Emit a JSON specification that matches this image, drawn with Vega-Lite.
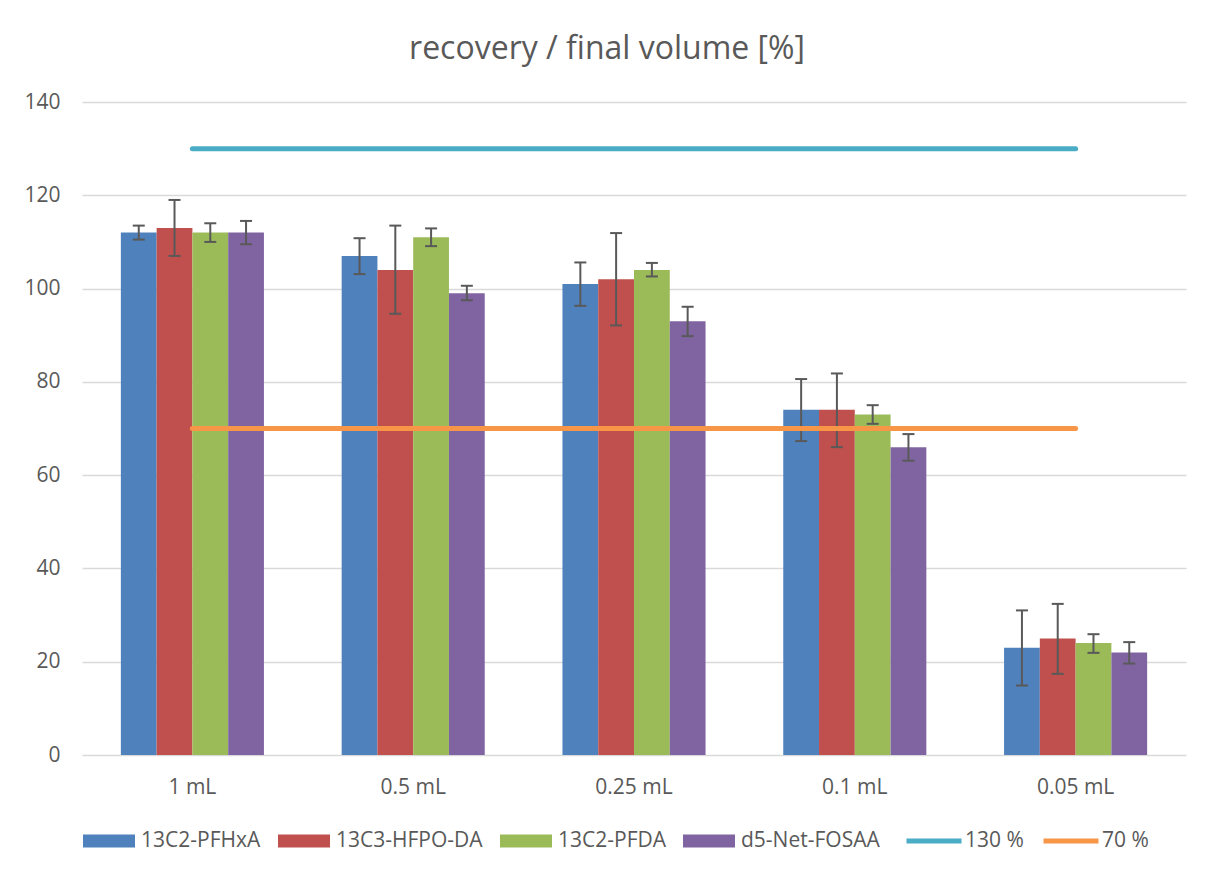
{
  "$schema": "https://vega.github.io/schema/vega-lite/v6.json",
  "autosize": "none",
  "width": 1104,
  "height": 653,
  "padding": {"left": 82, "top": 102, "right": 26, "bottom": 120},
  "background": "white",
  "config": {
    "font": "Open Sans",
    "view": {"stroke": null},
    "axis": {"labelFont": "Open Sans", "labelColor": "#595959", "labelFontSize": 21},
    "legend": {"labelFont": "Open Sans", "labelColor": "#595959", "labelFontSize": 21}
  },
  "title": {
    "text": "recovery / final volume [%]",
    "font": "Open Sans",
    "fontSize": 32,
    "fontWeight": "normal",
    "color": "#595959",
    "anchor": "middle",
    "dx": -27,
    "offset": 25
  },
  "datasets": {
    "bars": [
      {"volume": "1 mL", "series": "13C2-PFHxA", "value": 112, "lo": 110.5, "hi": 113.5},
      {"volume": "1 mL", "series": "13C3-HFPO-DA", "value": 113, "lo": 107, "hi": 119},
      {"volume": "1 mL", "series": "13C2-PFDA", "value": 112, "lo": 110, "hi": 114},
      {"volume": "1 mL", "series": "d5-Net-FOSAA", "value": 112, "lo": 109.5, "hi": 114.5},
      {"volume": "0.5 mL", "series": "13C2-PFHxA", "value": 107, "lo": 103.1, "hi": 110.8},
      {"volume": "0.5 mL", "series": "13C3-HFPO-DA", "value": 104, "lo": 94.6, "hi": 113.5},
      {"volume": "0.5 mL", "series": "13C2-PFDA", "value": 111, "lo": 109.1, "hi": 112.9},
      {"volume": "0.5 mL", "series": "d5-Net-FOSAA", "value": 99, "lo": 97.5, "hi": 100.6},
      {"volume": "0.25 mL", "series": "13C2-PFHxA", "value": 101, "lo": 96.3, "hi": 105.6},
      {"volume": "0.25 mL", "series": "13C3-HFPO-DA", "value": 102, "lo": 92.1, "hi": 111.9},
      {"volume": "0.25 mL", "series": "13C2-PFDA", "value": 104, "lo": 102.6, "hi": 105.5},
      {"volume": "0.25 mL", "series": "d5-Net-FOSAA", "value": 93, "lo": 89.8, "hi": 96.1},
      {"volume": "0.1 mL", "series": "13C2-PFHxA", "value": 74, "lo": 67.3, "hi": 80.6},
      {"volume": "0.1 mL", "series": "13C3-HFPO-DA", "value": 74, "lo": 66, "hi": 81.8},
      {"volume": "0.1 mL", "series": "13C2-PFDA", "value": 73, "lo": 71, "hi": 75},
      {"volume": "0.1 mL", "series": "d5-Net-FOSAA", "value": 66, "lo": 63.1, "hi": 68.8},
      {"volume": "0.05 mL", "series": "13C2-PFHxA", "value": 23, "lo": 14.9, "hi": 31.0},
      {"volume": "0.05 mL", "series": "13C3-HFPO-DA", "value": 25, "lo": 17.4, "hi": 32.4},
      {"volume": "0.05 mL", "series": "13C2-PFDA", "value": 24, "lo": 21.9, "hi": 25.9},
      {"volume": "0.05 mL", "series": "d5-Net-FOSAA", "value": 22, "lo": 19.6, "hi": 24.2}
    ],
    "limits": [
      {"volume": "1 mL", "line": "130 %", "level": 130},
      {"volume": "0.5 mL", "line": "130 %", "level": 130},
      {"volume": "0.25 mL", "line": "130 %", "level": 130},
      {"volume": "0.1 mL", "line": "130 %", "level": 130},
      {"volume": "0.05 mL", "line": "130 %", "level": 130},
      {"volume": "1 mL", "line": "70 %", "level": 70},
      {"volume": "0.5 mL", "line": "70 %", "level": 70},
      {"volume": "0.25 mL", "line": "70 %", "level": 70},
      {"volume": "0.1 mL", "line": "70 %", "level": 70},
      {"volume": "0.05 mL", "line": "70 %", "level": 70}
    ]
  },
  "layer": [
    {
      "data": {"name": "bars"},
      "mark": {"type": "bar"},
      "encoding": {
        "x": {
          "field": "volume", "type": "nominal",
          "sort": ["1 mL", "0.5 mL", "0.25 mL", "0.1 mL", "0.05 mL"],
          "scale": {"paddingInner": 0.352, "paddingOuter": 0.176},
          "axis": {"title": null, "labelAngle": 0, "ticks": false, "domain": false, "labelPadding": 21, "grid": false}
        },
        "xOffset": {
          "field": "series", "type": "nominal",
          "sort": ["13C2-PFHxA", "13C3-HFPO-DA", "13C2-PFDA", "d5-Net-FOSAA"],
          "scale": {"paddingInner": 0, "paddingOuter": 0}
        },
        "y": {
          "field": "value", "type": "quantitative",
          "scale": {"domain": [0, 140], "nice": false},
          "axis": {
            "title": null, "values": [0, 20, 40, 60, 80, 100, 120, 140],
            "ticks": false, "domain": false, "labelPadding": 22,
            "gridColor": "#d9d9d9", "gridWidth": 1.5
          }
        },
        "color": {
          "field": "series", "type": "nominal",
          "sort": ["13C2-PFHxA", "13C3-HFPO-DA", "13C2-PFDA", "d5-Net-FOSAA"],
          "scale": {
            "domain": ["13C2-PFHxA", "13C3-HFPO-DA", "13C2-PFDA", "d5-Net-FOSAA"],
            "range": ["#4F81BD", "#C0504D", "#9BBB59", "#8064A2"]
          },
          "legend": {
            "title": null, "orient": "none", "direction": "horizontal",
            "legendX": 1, "legendY": 713,
            "symbolType": "M-1,-0.25H1V0.25H-1Z", "symbolSize": 2704,
            "symbolStrokeWidth": 0, "symbolOpacity": 1,
            "labelOffset": 6, "columnPadding": 17
          }
        }
      }
    },
    {
      "data": {"name": "bars"},
      "mark": {"type": "rule", "color": "#595959", "strokeWidth": 2},
      "encoding": {
        "x": {"field": "volume", "type": "nominal", "sort": ["1 mL", "0.5 mL", "0.25 mL", "0.1 mL", "0.05 mL"]},
        "xOffset": {"field": "series", "type": "nominal", "sort": ["13C2-PFHxA", "13C3-HFPO-DA", "13C2-PFDA", "d5-Net-FOSAA"]},
        "y": {"field": "lo", "type": "quantitative"},
        "y2": {"field": "hi"}
      }
    },
    {
      "data": {"name": "bars"},
      "mark": {"type": "tick", "color": "#595959", "thickness": 2, "size": 12, "opacity": 1},
      "encoding": {
        "x": {"field": "volume", "type": "nominal", "sort": ["1 mL", "0.5 mL", "0.25 mL", "0.1 mL", "0.05 mL"]},
        "xOffset": {"field": "series", "type": "nominal", "sort": ["13C2-PFHxA", "13C3-HFPO-DA", "13C2-PFDA", "d5-Net-FOSAA"]},
        "y": {"field": "lo", "type": "quantitative"}
      }
    },
    {
      "data": {"name": "bars"},
      "mark": {"type": "tick", "color": "#595959", "thickness": 2, "size": 12, "opacity": 1},
      "encoding": {
        "x": {"field": "volume", "type": "nominal", "sort": ["1 mL", "0.5 mL", "0.25 mL", "0.1 mL", "0.05 mL"]},
        "xOffset": {"field": "series", "type": "nominal", "sort": ["13C2-PFHxA", "13C3-HFPO-DA", "13C2-PFDA", "d5-Net-FOSAA"]},
        "y": {"field": "hi", "type": "quantitative"}
      }
    },
    {
      "data": {"name": "limits"},
      "mark": {"type": "line", "strokeWidth": 5, "strokeCap": "round"},
      "encoding": {
        "x": {"field": "volume", "type": "nominal", "sort": ["1 mL", "0.5 mL", "0.25 mL", "0.1 mL", "0.05 mL"]},
        "y": {"field": "level", "type": "quantitative"},
        "stroke": {
          "field": "line", "type": "nominal",
          "scale": {"domain": ["130 %", "70 %"], "range": ["#4BACC6", "#F79646"]},
          "legend": {
            "title": null, "orient": "none", "direction": "horizontal",
            "legendX": 822, "legendY": 709,
            "symbolType": "stroke", "symbolSize": 3025, "symbolStrokeWidth": 5,
            "labelOffset": 1, "columnPadding": 9
          }
        }
      }
    }
  ]
}
